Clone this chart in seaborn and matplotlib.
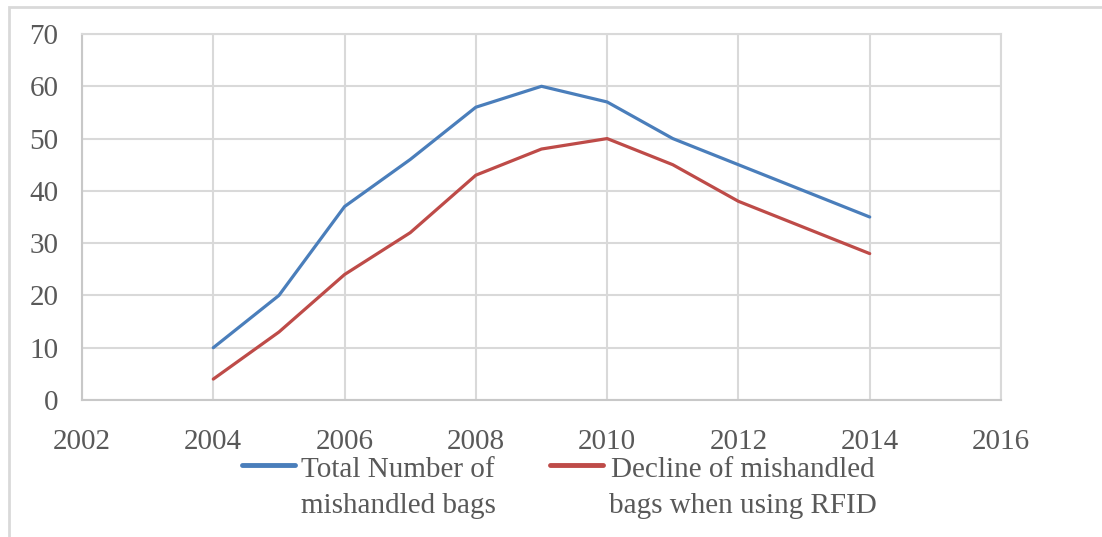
import pandas as pd
import matplotlib.pyplot as plt
import seaborn as sns
from matplotlib.patches import Rectangle
from matplotlib.legend_handler import HandlerLine2D

# Data
years = [2004, 2005, 2006, 2007, 2008, 2009, 2010, 2011, 2012, 2013, 2014]
total_bags = [10, 20, 37, 46, 56, 60, 57, 50, 45, 40, 35]
rfid_bags = [4, 13, 24, 32, 43, 48, 50, 45, 38, 33, 28]
series_names = ['Total Number of\nmishandled bags',
                'Decline of mishandled\nbags when using RFID']
x_ticks = [2002, 2004, 2006, 2008, 2010, 2012, 2014, 2016]
y_ticks = [0, 10, 20, 30, 40, 50, 60, 70]

df = pd.DataFrame({'year': years + years,
                   'bags': total_bags + rfid_bags,
                   'series': [series_names[0]] * len(years) + [series_names[1]] * len(years)})

sns.set_style('white')
plt.rcParams['font.family'] = ['Liberation Serif', 'DejaVu Serif']

fig = plt.figure(figsize=(11.02, 5.37), dpi=100)
ax = fig.add_axes([82 / 1102, 1 - 400 / 537, (1001 - 82) / 1102, (400 - 34) / 537])

palette = {series_names[0]: '#4a7ebb', series_names[1]: '#be4b48'}
sns.lineplot(data=df, x='year', y='bags', hue='series', palette=palette,
             linewidth=2.3, ax=ax, legend=False)

ax.set_xlim(2002, 2016)
ax.set_ylim(0, 70)
ax.set_xticks(x_ticks)
ax.set_yticks(y_ticks)
ax.set_xlabel('')
ax.set_ylabel('')
ax.grid(True, color='#d9d9d9', linewidth=1.5)
ax.set_axisbelow(True)
for s in ax.spines.values():
    s.set_color('#d9d9d9')
    s.set_linewidth(1.5)
ax.spines['left'].set_color('#c8c8c8')
ax.spines['bottom'].set_color('#c8c8c8')
ax.tick_params(axis='both', length=0, labelsize=21, labelcolor='#595959')
ax.tick_params(axis='y', pad=17)
ax.tick_params(axis='x', pad=21)


class TopLine(HandlerLine2D):
    # put the legend line next to the first line of the label, like Excel does
    def create_artists(self, legend, orig_handle, xdescent, ydescent, width, height, fontsize, trans):
        arts = super().create_artists(legend, orig_handle, xdescent, ydescent, width, height, fontsize, trans)
        for a in arts:
            a.set_ydata([y + 0.78 * fontsize for y in a.get_ydata()])
        return arts


handles = [plt.Line2D([], [], color=palette[n], linewidth=3.5) for n in series_names]
leg = fig.legend(handles, series_names, loc='center', bbox_to_anchor=(0.5077, 0.0906),
                 ncol=2, frameon=False, fontsize=21, handlelength=1.8, handletextpad=0.2,
                 columnspacing=1.88, labelspacing=0.2, labelcolor='#595959',
                 borderpad=0, handler_map={plt.Line2D: TopLine()})
for t in leg.get_texts():
    t.set_multialignment('center')
    t.set_linespacing(1.5)

# chart area border
fig.patches.append(Rectangle((9 / 1102, -0.1), 1.2, 1 - 7 / 537 + 0.1, transform=fig.transFigure,
                             fill=False, edgecolor='#d9d9d9', linewidth=2))

fig.savefig('out.png', dpi=100)
